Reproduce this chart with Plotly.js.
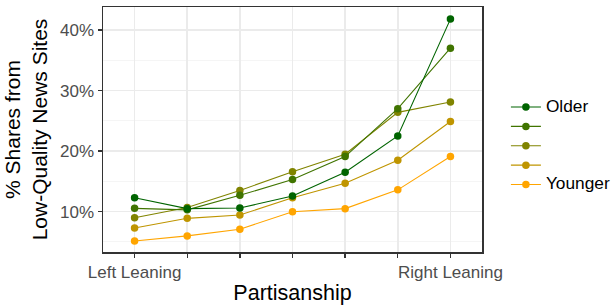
<!DOCTYPE html>
<html>
<head>
<meta charset="utf-8">
<script src="https://cdn.plot.ly/plotly-3.0.1.min.js"></script>
<style>html,body{margin:0;padding:0;background:#fff;}#chart{width:611px;height:307px;}</style>
</head>
<body>
<div id="chart"></div>
<script>
var partisanship = [1, 2, 3, 4, 5, 6, 7];
var tickLabels = ["Left Leaning", "", "", "", "", "", "Right Leaning"];
var yTickValues = [10, 20, 30, 40];
var yTickLabels = ["10%", "20%", "30%", "40%"];
var seriesNames = ["Older", "", "", "", "Younger"];
var seriesColors = ["#006400", "#407400", "#808400", "#BF9500", "#FFA500"];
var older   = [12.3, 10.5, 10.6, 12.6, 16.5, 22.5, 41.8];
var group2  = [10.55, 10.3, 12.7, 15.3, 19.1, 27.0, 37.0];
var group3  = [9.0, 10.7, 13.5, 16.6, 19.5, 26.4, 28.1];
var group4  = [7.3, 8.9, 9.45, 12.3, 14.7, 18.5, 24.9];
var younger = [5.15, 6.0, 7.1, 10.0, 10.5, 13.6, 19.1];
var seriesValues = [older, group2, group3, group4, younger];

var traces = [];
for (var i = seriesValues.length - 1; i >= 0; i--) {
  traces.push({
    x: partisanship,
    y: seriesValues[i],
    name: seriesNames[i] ? '<span style="font-size:17.3px">' + seriesNames[i] + '</span>' : '',
    type: 'scatter',
    mode: 'lines+markers',
    line: {color: seriesColors[i], width: 1.1},
    marker: {color: seriesColors[i], size: 7.5},
    hoverinfo: 'x+y'
  });
}

var layout = {
  width: 611, height: 307,
  margin: {l: 103, r: 129, t: 7, b: 55, pad: 0},
  paper_bgcolor: '#ffffff',
  plot_bgcolor: '#ffffff',
  font: {family: 'Liberation Sans, Arial, sans-serif', color: '#000'},
  showlegend: true,
  legend: {
    xref: 'container', yref: 'container',
    x: 0.828, xanchor: 'left', y: 0.525, yanchor: 'middle',
    traceorder: 'reversed',
    font: {size: 12.6, color: '#000'},
    itemwidth: 30, bgcolor: 'rgba(0,0,0,0)'
  },
  xaxis: {
    range: [0.4, 7.6],
    tickvals: partisanship,
    ticktext: tickLabels,
    showgrid: true, gridcolor: '#ebebeb', gridwidth: 1.5,
    zeroline: false,
    showline: true, linecolor: '#333333', linewidth: 1.5, mirror: true,
    ticks: 'outside', ticklen: 4, tickwidth: 1.3, tickcolor: '#333333',
    tickfont: {size: 17, color: '#4d4d4d'},
    title: {text: 'Partisanship', font: {size: 21.5, color: '#000'}, standoff: 4},
    automargin: false
  },
  yaxis: {
    range: [3.34, 43.8],
    tickvals: yTickValues,
    ticktext: yTickLabels,
    showgrid: true, gridcolor: '#ebebeb', gridwidth: 1.5,
    minor: {tickvals: [5, 15, 25, 35], showgrid: true, gridcolor: '#f3f3f3', gridwidth: 0.8, ticks: ''},
    zeroline: false,
    showline: true, linecolor: '#333333', linewidth: 1.5, mirror: true,
    ticks: 'outside', ticklen: 4, tickwidth: 1.3, tickcolor: '#333333',
    tickfont: {size: 17, color: '#4d4d4d'},
    title: {text: '% Shares from<br>Low-Quality News Sites', font: {size: 21, color: '#000'}, standoff: 6},
    automargin: false
  }
};

Plotly.newPlot('chart', traces, layout, {displayModeBar: false, staticPlot: true});
</script>
</body>
</html>
